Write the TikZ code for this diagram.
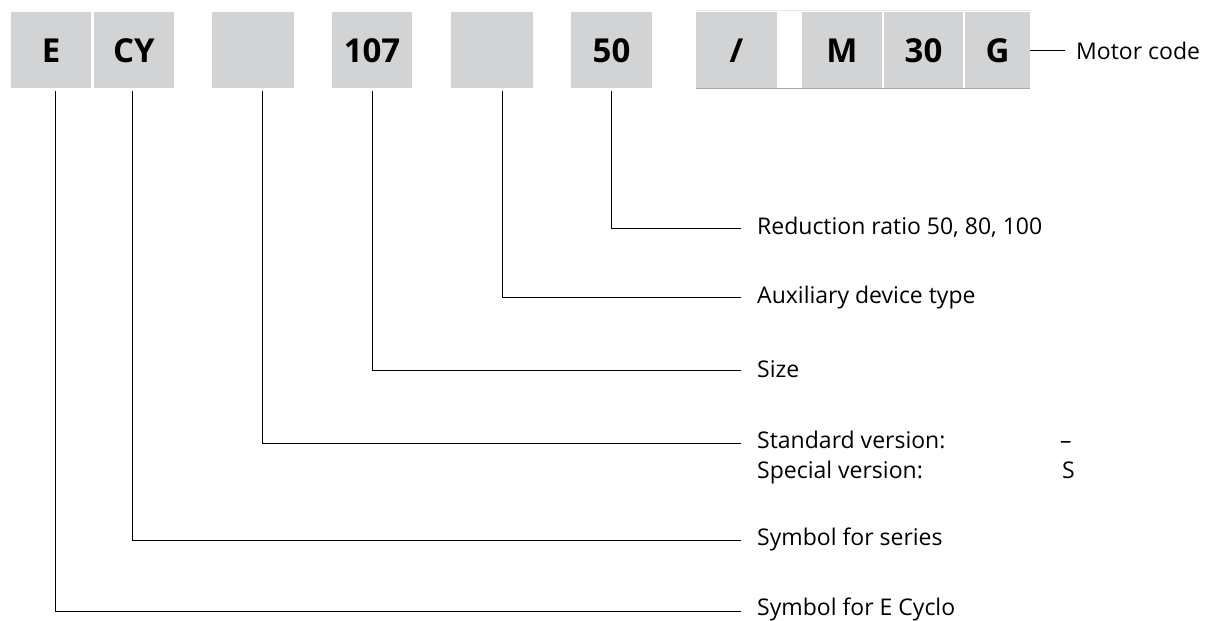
\documentclass[tikz,border=0pt]{standalone}
\usepackage{fontspec}
\setmainfont{Open Sans}
\definecolor{boxgray}{HTML}{D1D3D4}
\definecolor{rulegray}{HTML}{A7A9AC}
\definecolor{topgray}{HTML}{E6E7E8}
\begin{document}
\begin{tikzpicture}[x=1pt,y=-1pt,
  codebox/.style={fill=boxgray,draw=none,inner sep=0pt,font=\fontsize{33}{36}\selectfont\bfseries},
  lbl/.style={anchor=base west,inner sep=0pt,font=\fontsize{23}{26}\selectfont},
  conn/.style={draw=black,line width=0.9pt}]
\useasboundingbox (0,0) rectangle (1210,621);
% motor code group background
\fill[topgray] (696,9.5) rectangle (1030,11);
\draw[rulegray,line width=1.6pt] (696,88.5) -- (1030,88.5);
% boxes
\newcommand{\codebx}[4]{\path[codebox] (#1,11.5) rectangle (#2,88);\node[codebox,fill=none] (#3) at ({(#1+#2)/2},51) {#4};}
\codebx{11}{91}{bE}{E}
\codebx{94}{174}{bCY}{CY}
\codebx{212}{294}{bS}{}
\codebx{332}{412}{bSize}{107}
\codebx{451}{533}{bAux}{}
\codebx{571}{652}{bRatio}{50}
\codebx{696}{777}{bSl}{/}
\codebx{802}{882}{bM}{M}
\codebx{884}{963}{bThirty}{30}
\codebx{965}{1030}{bG}{G}
% anchor coordinates on box bottoms
\coordinate (tE) at (55.5,91);
\coordinate (tCY) at (132,91);
\coordinate (tS) at (262,91);
\coordinate (tSize) at (372,91);
\coordinate (tAux) at (502,91);
\coordinate (tRatio) at (611,91);
% labels
\node[lbl] (lRatio) at (757,234) {Reduction ratio 50, 80, 100};
\node[lbl] (lAux) at (757,303) {Auxiliary device type};
\node[lbl] (lSize) at (757,377) {Size};
\node[lbl] (lStd) at (757,448) {Standard version:};
\node[lbl] (lSpec) at (757,478) {Special version:};
\node[lbl] (vStd) at (1060,448) {–};
\node[lbl] (vSpec) at (1062,478) {S};
\node[lbl] (lSeries) at (757,545) {Symbol for series};
\node[lbl] (lCyclo) at (757,615) {Symbol for E Cyclo};
\node[lbl] (lMotor) at (1076,59) {Motor code};
% connectors
\coordinate (eRatio) at (741,228);
\coordinate (eAux) at (741,297);
\coordinate (eSize) at (741,370);
\coordinate (eStd) at (741,443);
\coordinate (eSeries) at (741,540);
\coordinate (eCyclo) at (741,611);
\draw[conn] (tRatio) |- (eRatio);
\draw[conn] (tAux) |- (eAux);
\draw[conn] (tSize) |- (eSize);
\draw[conn] (tS) |- (eStd);
\draw[conn] (tCY) |- (eSeries);
\draw[conn] (tE) |- (eCyclo);
\coordinate (gR) at (1030,50);
\coordinate (mL) at (1065,50);
\draw[conn] (gR) -- (mL);
\end{tikzpicture}
\end{document}
